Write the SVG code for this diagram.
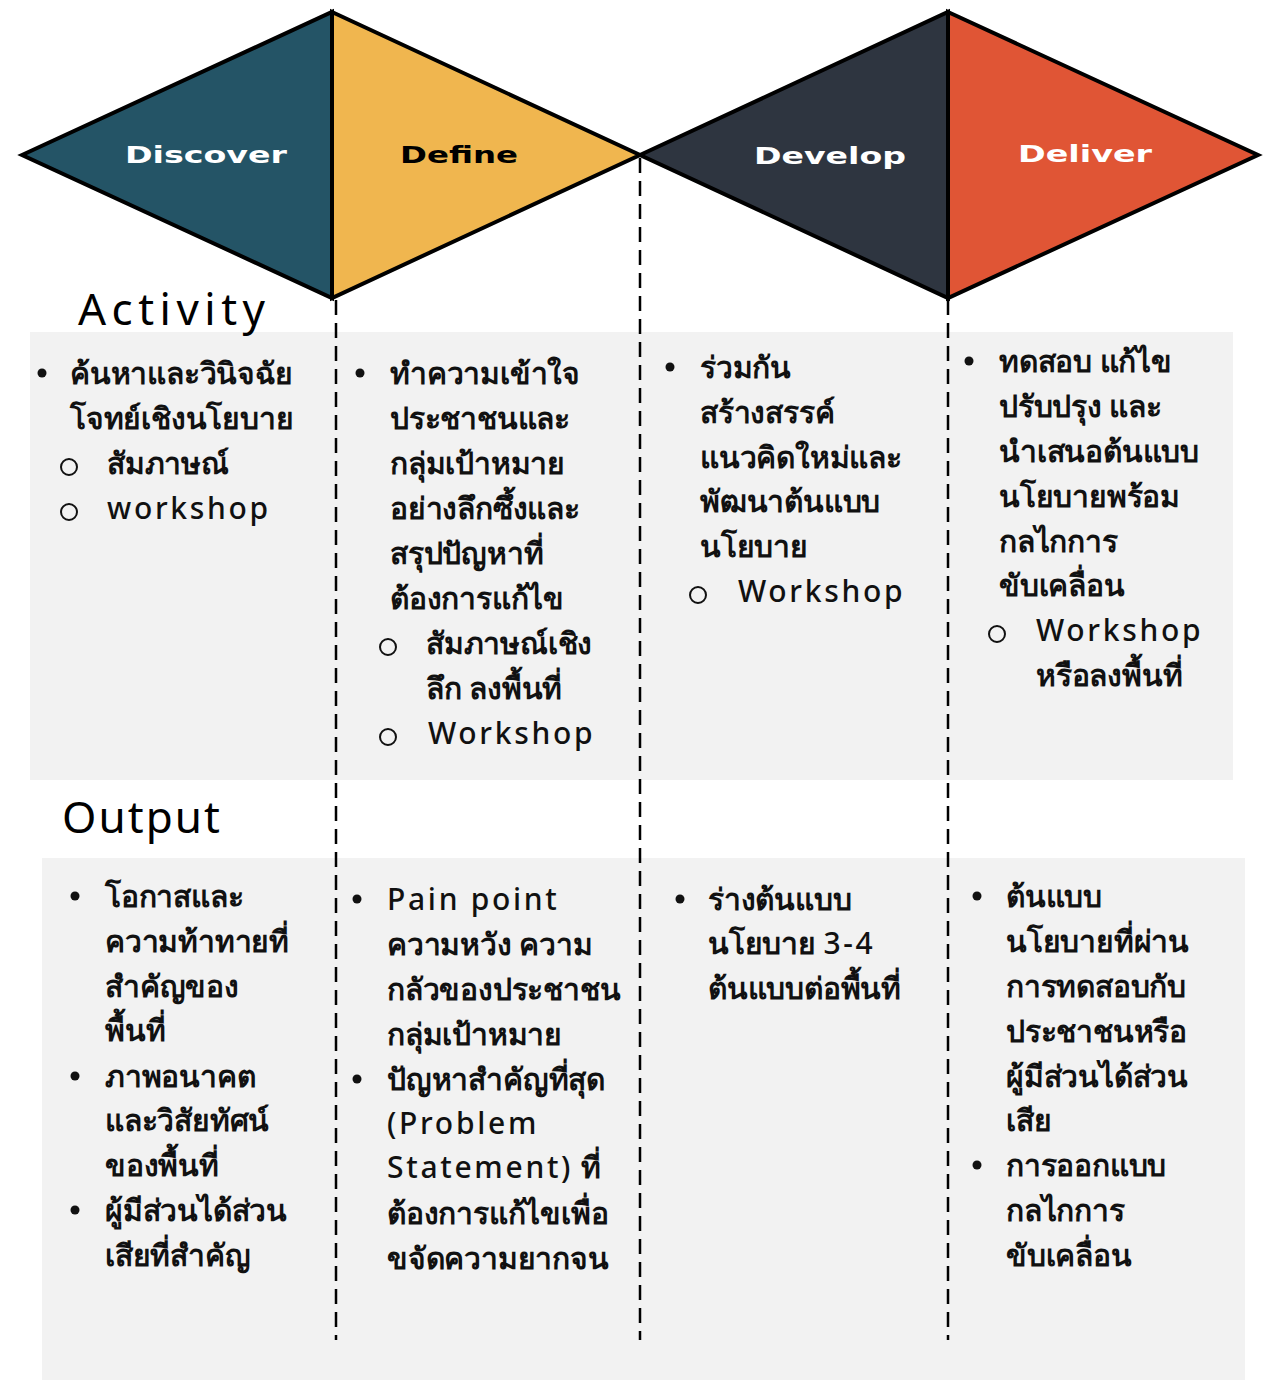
<svg xmlns="http://www.w3.org/2000/svg" width="1273" height="1380" viewBox="0 0 1273 1380">
<style>
.t text{font-family:"Noto Sans","DejaVu Sans",sans-serif;font-size:30px;fill:#111;letter-spacing:-0.2px;font-weight:600}
.t text.e{letter-spacing:2.7px;font-weight:500}
.h{font-family:"Noto Sans","DejaVu Sans",sans-serif;font-size:44px;fill:#000}
.lab{font-family:"DejaVu Sans","Liberation Sans",sans-serif;font-weight:bold;font-size:23px;text-anchor:middle}
.tri{stroke:#000;stroke-width:4;stroke-linejoin:miter}
.dash{stroke:#000;stroke-width:2.5;stroke-dasharray:15 8;fill:none}
.box{fill:#F2F2F2}
.b{fill:#111}
.c{fill:none;stroke:#111;stroke-width:2}
</style>
<rect width="1273" height="1380" fill="#fff"/>
<rect class="box" x="30" y="332" width="1203" height="448"/>
<rect class="box" x="42" y="858" width="1203" height="522"/>
<g id="connectors">
<line class="dash" x1="336" y1="300" x2="336" y2="1340"/>
<line class="dash" x1="640" y1="158" x2="640" y2="1340"/>
<line class="dash" x1="948" y1="300" x2="948" y2="1340"/>
</g>
<g id="discover">
<polygon class="tri" points="22,155 332,12 332,298" fill="#245466"/>
<text class="lab" x="206" y="163" fill="#fff" textLength="162" lengthAdjust="spacingAndGlyphs">Discover</text>
</g>
<g id="define">
<polygon class="tri" points="332,12 640,155 332,298" fill="#F0B64F"/>
<text class="lab" x="459" y="163" fill="#000" textLength="118" lengthAdjust="spacingAndGlyphs">Define</text>
</g>
<g id="develop">
<polygon class="tri" points="640,155 948,12 948,298" fill="#2E3540"/>
<text class="lab" x="830" y="164" fill="#fff" textLength="152" lengthAdjust="spacingAndGlyphs">Develop</text>
</g>
<g id="deliver">
<polygon class="tri" points="948,12 1258,155 948,298" fill="#E05535"/>
<text class="lab" x="1085" y="162" fill="#fff" textLength="134" lengthAdjust="spacingAndGlyphs">Deliver</text>
</g>
<text class="h" x="78" y="325" textLength="187" lengthAdjust="spacing">Activity</text>
<text class="h" x="62" y="833" textLength="158" lengthAdjust="spacing">Output</text>
<g id="activity-discover" class="t">
<circle class="b" cx="42" cy="373" r="4.5"/>
<text x="70" y="384">ค้นหาและวินิจฉัย</text>
<text x="70" y="429">โจทย์เชิงนโยบาย</text>
<circle class="c" cx="69" cy="467" r="8"/><text x="107" y="474">สัมภาษณ์</text>
<circle class="c" cx="69" cy="512" r="8"/><text class="e" x="107" y="519">workshop</text>
</g>
<g id="activity-define" class="t">
<circle class="b" cx="360" cy="373" r="4.5"/>
<text x="390" y="384">ทำความเข้าใจ</text>
<text x="390" y="429">ประชาชนและ</text>
<text x="390" y="474">กลุ่มเป้าหมาย</text>
<text x="390" y="519">อย่างลึกซึ้งและ</text>
<text x="390" y="564">สรุปปัญหาที่</text>
<text x="390" y="609">ต้องการแก้ไข</text>
<circle class="c" cx="388" cy="647" r="8"/><text x="426" y="654">สัมภาษณ์เชิง</text>
<text x="426" y="699">ลึก ลงพื้นที่</text>
<circle class="c" cx="388" cy="737" r="8"/><text class="e" x="428" y="744">Workshop</text>
</g>
<g id="activity-develop" class="t">
<circle class="b" cx="670" cy="367" r="4.5"/>
<text x="700" y="378">ร่วมกัน</text>
<text x="700" y="423">สร้างสรรค์</text>
<text x="700" y="468">แนวคิดใหม่และ</text>
<text x="700" y="512">พัฒนาต้นแบบ</text>
<text x="700" y="557">นโยบาย</text>
<circle class="c" cx="698" cy="595" r="8"/><text class="e" x="738" y="602">Workshop</text>
</g>
<g id="activity-deliver" class="t">
<circle class="b" cx="969" cy="361" r="4.5"/>
<text x="999" y="372">ทดสอบ แก้ไข</text>
<text x="999" y="417">ปรับปรุง และ</text>
<text x="999" y="462">นำเสนอต้นแบบ</text>
<text x="999" y="507">นโยบายพร้อม</text>
<text x="999" y="552">กลไกการ</text>
<text x="999" y="596">ขับเคลื่อน</text>
<circle class="c" cx="997" cy="634" r="8"/><text class="e" x="1036" y="641">Workshop</text>
<text x="1036" y="686">หรือลงพื้นที่</text>
</g>
<g id="output-discover" class="t">
<circle class="b" cx="75" cy="896" r="4.5"/>
<text x="105" y="907">โอกาสและ</text>
<text x="105" y="952">ความท้าทายที่</text>
<text x="105" y="997">สำคัญของ</text>
<text x="105" y="1041">พื้นที่</text>
<circle class="b" cx="75" cy="1076" r="4.5"/>
<text x="105" y="1087">ภาพอนาคต</text>
<text x="105" y="1131">และวิสัยทัศน์</text>
<text x="105" y="1176">ของพื้นที่</text>
<circle class="b" cx="75" cy="1210" r="4.5"/>
<text x="105" y="1221">ผู้มีส่วนได้ส่วน</text>
<text x="105" y="1266">เสียที่สำคัญ</text>
</g>
<g id="output-define" class="t">
<circle class="b" cx="357" cy="899" r="4.5"/>
<text class="e" x="387" y="910">Pain point</text>
<text x="387" y="955">ความหวัง ความ</text>
<text x="387" y="1000">กลัวของประชาชน</text>
<text x="387" y="1045">กลุ่มเป้าหมาย</text>
<circle class="b" cx="357" cy="1079" r="4.5"/>
<text x="387" y="1090">ปัญหาสำคัญที่สุด</text>
<text class="e" x="387" y="1134">(Problem</text>
<text x="387" y="1178"><tspan style="letter-spacing:2.7px;font-weight:500">Statement)</tspan> ที่</text>
<text x="387" y="1224">ต้องการแก้ไขเพื่อ</text>
<text x="387" y="1269">ขจัดความยากจน</text>
</g>
<g id="output-develop" class="t">
<circle class="b" cx="680" cy="899" r="4.5"/>
<text x="708" y="910">ร่างต้นแบบ</text>
<text x="708" y="954">นโยบาย <tspan style="letter-spacing:2.7px;font-weight:500">3-4</tspan></text>
<text x="708" y="999">ต้นแบบต่อพื้นที่</text>
</g>
<g id="output-deliver" class="t">
<circle class="b" cx="977" cy="896" r="4.5"/>
<text x="1006" y="907">ต้นแบบ</text>
<text x="1006" y="952">นโยบายที่ผ่าน</text>
<text x="1006" y="997">การทดสอบกับ</text>
<text x="1006" y="1042">ประชาชนหรือ</text>
<text x="1006" y="1087">ผู้มีส่วนได้ส่วน</text>
<text x="1006" y="1131">เสีย</text>
<circle class="b" cx="977" cy="1165" r="4.5"/>
<text x="1006" y="1176">การออกแบบ</text>
<text x="1006" y="1221">กลไกการ</text>
<text x="1006" y="1266">ขับเคลื่อน</text>
</g>
</svg>
